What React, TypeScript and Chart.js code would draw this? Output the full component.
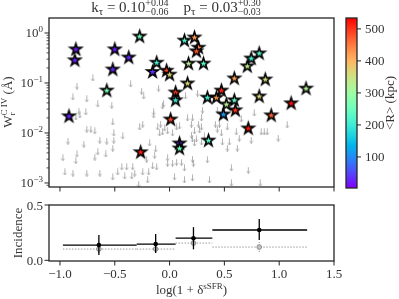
import React, { useEffect, useRef } from 'react';
import { Chart, registerables } from 'chart.js';
Chart.register(...registerables);

const W = 399;
const H = 299;
const FONT = '"Liberation Serif", "DejaVu Serif", serif';
const TEXT = '#333333';
const AXIS = '#262626';

// ---------- top panel: detections (stars) ----------
const starX = [-0.855, -0.864, -0.5, -0.373, -0.518, -0.273, -0.118, -0.155, -0.027, 0.0, 0.136, 0.227, 0.264, 0.245, 0.173, 0.309, 0.164, -0.573, 0.055, 0.055, 0.345, 0.427, 0.473, 0.518, 0.591, 0.491, 0.6, 0.591, 0.745, 0.818, 0.709, 0.873, 0.818, 1.245, 1.109, 0.927, 0.718, 0.355, 0.091, 0.091, -0.918, 0.009, -0.264];
const starW = [0.48, 0.29, 0.48, 0.33, 0.19, 0.87, 0.26, 0.17, 0.18, 0.15, 0.72, 0.83, 0.52, 0.44, 0.25, 0.25, 0.1, 0.072, 0.066, 0.046, 0.052, 0.052, 0.072, 0.038, 0.046, 0.024, 0.029, 0.126, 0.316, 0.4, 0.22, 0.12, 0.055, 0.079, 0.04, 0.023, 0.0126, 0.0072, 0.0063, 0.005, 0.022, 0.019, 0.0042];
const starR = [20, 25, 22, 30, 28, 255, 205, 35, 490, 370, 215, 425, 440, 480, 330, 225, 365, 260, 495, 200, 205, 425, 510, 330, 240, 110, 500, 420, 210, 225, 335, 360, 365, 320, 525, 470, 520, 220, 30, 255, 25, 490, 515];

// ---------- top panel: upper limits (arrows) ----------
const limX = [-0.7, -0.845, -0.882, -0.755, -0.655, -0.527, -0.355, -0.255, -0.236, -0.1, 0.145, 0.255, -0.055, -0.827, -0.818, -0.855, -0.764, -0.755, -0.718, -0.682, -0.518, -0.509, -0.427, -0.273, -0.245, -0.927, -0.782, -0.636, -0.573, -0.509, -0.518, -0.655, -0.682, -0.582, -0.845, -0.855, -0.973, -0.955, -0.882, -0.755, -0.636, -0.518, -0.473, -0.436, -0.391, -0.336, -0.409, -0.345, -0.318, -0.282, -0.245, -0.191, -0.209, -0.064, -0.145, -0.145, -0.082, -0.109, -0.045, -0.064, -0.091, -0.018, 0.064, 0.091, 0.027, 0.164, 0.209, 0.291, 0.264, 0.291, 0.273, 0.2, 0.227, 0.2, 0.209, 0.245, 0.227, 0.291, 0.318, 0.418, 0.455, 0.436, 0.527, 0.473, 0.545, 0.527, 0.609, 0.482, -0.182, -0.127, -0.136, -0.018, 0.027, -0.018, 0.064, 0.109, 0.218, 0.209, 0.136, 0.345, 0.364, 0.564, -0.118, -0.2, 0.045, 0.136, 0.209, 0.564, 0.3, 0.436, 0.773, 0.655, 0.636, 0.618, 0.745, 0.836, 0.864, 0.891, 1.073, 0.991, 0.718, 0.827, -0.155];
const limW = [0.126, 0.087, 0.0525, 0.048, 0.038, 0.036, 0.0955, 0.069, 0.055, 0.079, 0.055, 0.063, 0.038, 0.0275, 0.0229, 0.0209, 0.0263, 0.012, 0.012, 0.011, 0.0166, 0.01, 0.0087, 0.0132, 0.0151, 0.0069, 0.006, 0.0072, 0.0069, 0.0072, 0.005, 0.0042, 0.0033, 0.0038, 0.0038, 0.0028, 0.0032, 0.00166, 0.00158, 0.00158, 0.00158, 0.00132, 0.00166, 0.0021, 0.0021, 0.0021, 0.00138, 0.00138, 0.00158, 0.00095, 0.00166, 0.00166, 0.003, 0.0347, 0.0263, 0.0229, 0.0151, 0.0132, 0.0126, 0.0105, 0.01, 0.011, 0.0132, 0.0138, 0.01, 0.02, 0.02, 0.02, 0.0151, 0.0132, 0.0115, 0.0151, 0.011, 0.0091, 0.0076, 0.0076, 0.0063, 0.0066, 0.0087, 0.0151, 0.0151, 0.012, 0.0132, 0.01, 0.0066, 0.005, 0.0105, 0.0066, 0.0063, 0.0048, 0.0036, 0.0032, 0.0025, 0.0025, 0.0026, 0.0026, 0.0025, 0.003, 0.002, 0.0029, 0.00115, 0.002, 0.0021, 0.00115, 0.00132, 0.00115, 0.00126, 0.001, 0.0288, 0.0288, 0.0251, 0.0191, 0.0079, 0.005, 0.0072, 0.0105, 0.0105, 0.0105, 0.0145, 0.0079, 0.0018, 0.001, 0.0022];

// ---------- axes ----------
const xMin = -1.1;
const xMax = 1.5;
const xTicks = [-1.0, -0.5, 0.0, 0.5, 1.0, 1.5];
const xTickLabels = ['\u22121.0', '\u22120.5', '0.0', '0.5', '1.0', '1.5'];
const yMin = 0.00083;
const yMax = 1.995;
const yDecades = [0.0001, 0.001, 0.01, 0.1, 1];
const yMajor = [0.001, 0.01, 0.1, 1];
const yMajorExp = ['\u22123', '\u22122', '\u22121', '0'];

// ---------- colorbar ----------
const cbMin = 3;
const cbMax = 534;
const cbTicks = [100, 200, 300, 400, 500];
const cbTickLabels = ['100', '200', '300', '400', '500'];

// ---------- bottom panel: incidence ----------
const binEdges = [-0.973, -0.3, 0.055, 0.39, 1.255];
const binCenters = [-0.645, -0.127, 0.218, 0.818];
const incidence = [0.138, 0.147, 0.2, 0.274];
const incidenceLo = [0.048, 0.066, 0.1, 0.183];
const incidenceHi = [0.229, 0.238, 0.3, 0.373];
const baseIncidence = [0.102, 0.102, 0.156, 0.12];
const baseLo = [0.066, 0.066, 0.1, 0.075];
const baseHi = [0.138, 0.138, 0.19, 0.165];
const botYMin = -0.006;
const botYMax = 0.5;
const botYTicks = [0.0, 0.5];
const botYTickLabels = ['0.0', '0.5'];

// ---------- text ----------
const kTau = '0.10';
const kTauUp = '+0.04';
const kTauDn = '\u22120.06';
const pTau = '0.03';
const pTauUp = '+0.30';
const pTauDn = '\u22120.03';

function clamp(v: number) { return Math.max(0, Math.min(1, v)); }
function rainbow(t: number) {
  const r = clamp(Math.abs(2 * t - 0.5));
  const g = clamp(Math.sin(Math.PI * t));
  const b = clamp(Math.cos((Math.PI * t) / 2));
  return `rgb(${Math.round(r * 255)},${Math.round(g * 255)},${Math.round(b * 255)})`;
}
function cmap(v: number) { return rainbow(clamp((v - cbMin) / (cbMax - cbMin))); }

function starImage(color: string) {
  const c = document.createElement('canvas');
  const s = 17;
  c.width = s; c.height = s;
  const g = c.getContext('2d')!;
  const cx = s / 2, cy = s / 2 + 0.5;
  const R = 6.0, r = R * 0.382;
  g.beginPath();
  for (let i = 0; i < 10; i++) {
    const a = -Math.PI / 2 + (i * Math.PI) / 5;
    const rad = i % 2 === 0 ? R : r;
    g.lineTo(cx + rad * Math.cos(a), cy + rad * Math.sin(a));
  }
  g.closePath();
  g.fillStyle = color;
  g.fill();
  g.lineWidth = 1.6;
  g.lineJoin = 'miter';
  g.strokeStyle = '#000';
  g.stroke();
  return c;
}

function arrowImage() {
  const c = document.createElement('canvas');
  c.width = 5; c.height = 7;
  const g = c.getContext('2d')!;
  g.strokeStyle = '#a8a8a8';
  g.lineWidth = 0.9;
  g.beginPath(); g.moveTo(2.5, 0.3); g.lineTo(2.5, 6.6); g.stroke();
  g.beginPath(); g.moveTo(0.9, 4.4); g.lineTo(2.5, 6.6); g.lineTo(4.1, 4.4); g.stroke();
  return c;
}

type Piece = { t?: string; sup?: string; sub?: string; size: number; dy?: number; supDy?: number; subDy?: number };

function pieceWidth(ctx: CanvasRenderingContext2D, p: Piece) {
  ctx.font = `${p.size}px ${FONT}`;
  if (p.sup !== undefined || p.sub !== undefined) {
    return Math.max(ctx.measureText(p.sup || '').width, ctx.measureText(p.sub || '').width);
  }
  return ctx.measureText(p.t || '').width;
}

function drawRich(ctx: CanvasRenderingContext2D, pieces: Piece[], x: number, y: number, align: string) {
  const widths = pieces.map((p) => pieceWidth(ctx, p));
  const total = widths.reduce((a, b) => a + b, 0);
  let cx = align === 'left' ? x : align === 'center' ? x - total / 2 : x - total;
  ctx.textAlign = 'left';
  ctx.textBaseline = 'alphabetic';
  pieces.forEach((p, i) => {
    ctx.font = `${p.size}px ${FONT}`;
    if (p.sup !== undefined || p.sub !== undefined) {
      if (p.sup) ctx.fillText(p.sup, cx, y + (p.supDy ?? -5));
      if (p.sub) ctx.fillText(p.sub, cx, y + (p.subDy ?? 3));
    } else {
      ctx.fillText(p.t || '', cx, y + (p.dy || 0));
    }
    cx += widths[i];
  });
}

function line(ctx: CanvasRenderingContext2D, x1: number, y1: number, x2: number, y2: number) {
  ctx.beginPath(); ctx.moveTo(x1, y1); ctx.lineTo(x2, y2); ctx.stroke();
}

const topPlugin = {
  id: 'topDeco',
  afterDraw(chart: any) {
    const ctx = chart.ctx as CanvasRenderingContext2D;
    const { left, right, top, bottom } = chart.chartArea;
    const xs = chart.scales.x, ys = chart.scales.y;
    ctx.save();
    ctx.strokeStyle = AXIS;
    ctx.lineWidth = 1;
    xs.ticks.forEach((t: any) => {
      const px = xs.getPixelForValue(t.value);
      line(ctx, px, bottom, px, bottom + 4.5);
    });
    ys.ticks.forEach((t: any) => {
      const py = ys.getPixelForValue(t.value);
      if (py < top - 0.5 || py > bottom + 0.5) return;
      const major = yMajor.includes(t.value);
      ctx.lineWidth = major ? 1 : 0.8;
      line(ctx, left - (major ? 4.5 : 2.5), py, left, py);
    });
    ctx.lineWidth = 1.3;
    ctx.strokeRect(left, top, right - left, bottom - top);
    ctx.fillStyle = TEXT;
    yMajor.forEach((v, i) => {
      const py = ys.getPixelForValue(v);
      drawRich(ctx, [{ t: '10', size: 13 }, { t: yMajorExp[i], size: 9, dy: -5 }], 43, py + 4.5, 'right');
    });
    // y title
    ctx.save();
    ctx.translate(12, 102);
    ctx.rotate(-Math.PI / 2);
    drawRich(ctx, [
      { t: 'W', size: 13 },
      { sup: 'C IV', sub: 'r', size: 9, supDy: -5.5, subDy: 3 },
      { t: ' (\u00C5)', size: 13 },
    ], 0, 0, 'center');
    ctx.restore();
    // title
    drawRich(ctx, [
      { t: 'k', size: 15 },
      { t: '\u03C4', size: 11, dy: 2.5 },
      { t: ' = ', size: 15 },
      { t: kTau, size: 15 },
      { sup: kTauUp, sub: kTauDn, size: 10, supDy: -6, subDy: 2.5 },
      { t: '    ', size: 15 },
      { t: 'p', size: 15 },
      { t: '\u03C4', size: 11, dy: 2.5 },
      { t: ' = ', size: 15 },
      { t: pTau, size: 15 },
      { sup: pTauUp, sub: pTauDn, size: 10, supDy: -6, subDy: 2.5 },
    ], 176, 12, 'center');
    ctx.restore();
  },
};

const botPlugin = {
  id: 'botDeco',
  afterDraw(chart: any) {
    const ctx = chart.ctx as CanvasRenderingContext2D;
    const { left, right, top, bottom } = chart.chartArea;
    const xs = chart.scales.x, ys = chart.scales.y;
    ctx.save();
    ctx.strokeStyle = AXIS;
    ctx.lineWidth = 1;
    ctx.fillStyle = TEXT;
    xs.ticks.forEach((t: any, i: number) => {
      const px = xs.getPixelForValue(t.value);
      line(ctx, px, bottom, px, bottom + 4.5);
      ctx.font = `13px ${FONT}`;
      ctx.textAlign = 'center';
      ctx.textBaseline = 'alphabetic';
      ctx.fillText(xTickLabels[i], px, 278);
    });
    ys.ticks.forEach((t: any, i: number) => {
      const py = ys.getPixelForValue(t.value);
      line(ctx, left - 4.5, py, left, py);
      ctx.font = `13px ${FONT}`;
      ctx.textAlign = 'right';
      ctx.textBaseline = 'alphabetic';
      ctx.fillText(botYTickLabels[i], 43, py + 4.5);
    });
    ctx.lineWidth = 1.3;
    ctx.strokeRect(left, top, right - left, bottom - top);
    drawRich(ctx, [
      { t: 'log(1 + \u03B4', size: 13 },
      { t: 'sSFR', size: 9, dy: -5.5 },
      { t: ')', size: 13 },
    ], (left + right) / 2, 294, 'center');
    ctx.save();
    ctx.translate(21.5, (top + bottom) / 2);
    ctx.rotate(-Math.PI / 2);
    drawRich(ctx, [{ t: 'Incidence', size: 13 }], 0, 0, 'center');
    ctx.restore();
    ctx.restore();
  },
};

const cbPlugin = {
  id: 'cbDeco',
  afterDraw(chart: any) {
    const ctx = chart.ctx as CanvasRenderingContext2D;
    const { left, right, top, bottom } = chart.chartArea;
    const ys = chart.scales.y;
    ctx.save();
    const y0 = ys.getPixelForValue(cbMin), y1 = ys.getPixelForValue(cbMax);
    const grad = ctx.createLinearGradient(0, y0, 0, y1);
    for (let i = 0; i <= 40; i++) grad.addColorStop(i / 40, rainbow(i / 40));
    ctx.fillStyle = grad;
    ctx.fillRect(left, top, right - left, bottom - top);
    ctx.strokeStyle = AXIS;
    ctx.lineWidth = 1.3;
    ctx.strokeRect(left, top, right - left, bottom - top);
    ctx.lineWidth = 1;
    ctx.fillStyle = TEXT;
    cbTicks.forEach((v, i) => {
      const py = ys.getPixelForValue(v);
      line(ctx, right, py, right + 4, py);
      ctx.font = `13px ${FONT}`;
      ctx.textAlign = 'left';
      ctx.textBaseline = 'alphabetic';
      ctx.fillText(cbTickLabels[i], 365, py + 4.5);
    });
    ctx.save();
    ctx.translate(394, (top + bottom) / 2);
    ctx.rotate(-Math.PI / 2);
    drawRich(ctx, [{ t: '<R> (kpc)', size: 13 }], 0, 0, 'center');
    ctx.restore();
    ctx.restore();
  },
};

const hiddenGrid = { display: false };

function topConfig(): any {
  const stars = starX.map((x, i) => ({ x, y: starW[i] }));
  const starImgs = starR.map((r) => starImage(cmap(r)));
  const arrows = limX.map((x, i) => ({ x, y: limW[i] }));
  const arrow = arrowImage();
  const logTicks: number[] = [];
  yDecades.forEach((d) => { for (let k = 1; k <= 9; k++) logTicks.push(k * d); });
  return {
    type: 'scatter',
    data: {
      datasets: [
        { data: stars, pointStyle: starImgs, pointRadius: 6, order: 0 },
        { data: arrows, pointStyle: arrow, pointRadius: 4, order: 1 },
      ],
    },
    options: {
      responsive: false,
      animation: false,
      devicePixelRatio: 1,
      events: [],
      layout: { padding: { left: 0, top: 18, right: W - 334, bottom: 0 } },
      plugins: { legend: { display: false }, tooltip: { enabled: false } },
      scales: {
        x: {
          type: 'linear', min: xMin, max: xMax,
          afterBuildTicks: (s: any) => { s.ticks = xTicks.map((v) => ({ value: v })); },
          afterFit: (s: any) => { s.height = H - 187; },
          ticks: { display: false }, grid: hiddenGrid, border: { display: false },
        },
        y: {
          type: 'logarithmic', min: yMin, max: yMax,
          afterBuildTicks: (s: any) => { s.ticks = logTicks.filter((v) => v >= yMin && v <= yMax).map((v) => ({ value: v })); },
          afterFit: (s: any) => { s.width = 49; },
          ticks: { display: false }, grid: hiddenGrid, border: { display: false },
        },
      },
    },
    plugins: [topPlugin],
  };
}

function botConfig(): any {
  const datasets: any[] = [];
  binCenters.forEach((c, i) => {
    datasets.push({
      data: [{ x: binEdges[i], y: incidence[i] }, { x: binEdges[i + 1], y: incidence[i] }],
      showLine: true, borderColor: '#000', borderWidth: 1.3, pointRadius: 0, order: 0,
    });
    datasets.push({
      data: [{ x: c, y: incidenceLo[i] }, { x: c, y: incidenceHi[i] }],
      showLine: true, borderColor: '#000', borderWidth: 1.3, pointRadius: 0, order: 0,
    });
    datasets.push({
      data: [{ x: binEdges[i], y: baseIncidence[i] }, { x: binEdges[i + 1], y: baseIncidence[i] }],
      showLine: true, borderColor: '#9a9a9a', borderWidth: 1, borderDash: [1.5, 1.5], pointRadius: 0, order: 3,
    });
    datasets.push({
      data: [{ x: c, y: baseLo[i] }, { x: c, y: baseHi[i] }],
      showLine: true, borderColor: '#9a9a9a', borderWidth: 1, borderDash: [1.5, 1.5], pointRadius: 0, order: 3,
    });
  });
  datasets.push({
    data: binCenters.map((c, i) => ({ x: c, y: baseIncidence[i] })),
    pointRadius: 2.3, backgroundColor: '#c4c4c4', borderColor: '#8a8a8a', borderWidth: 1, order: 2,
  });
  datasets.push({
    data: binCenters.map((c, i) => ({ x: c, y: incidence[i] })),
    pointRadius: 2.3, backgroundColor: '#000', borderColor: '#000', borderWidth: 0, order: -1,
  });
  return {
    type: 'scatter',
    data: { datasets },
    options: {
      responsive: false,
      animation: false,
      devicePixelRatio: 1,
      events: [],
      layout: { padding: { left: 0, top: 205, right: W - 334, bottom: 0 } },
      plugins: { legend: { display: false }, tooltip: { enabled: false } },
      scales: {
        x: {
          type: 'linear', min: xMin, max: xMax,
          afterBuildTicks: (s: any) => { s.ticks = xTicks.map((v) => ({ value: v })); },
          afterFit: (s: any) => { s.height = H - 261; },
          ticks: { display: false }, grid: hiddenGrid, border: { display: false },
        },
        y: {
          type: 'linear', min: botYMin, max: botYMax,
          afterBuildTicks: (s: any) => { s.ticks = botYTicks.map((v) => ({ value: v })); },
          afterFit: (s: any) => { s.width = 49; },
          ticks: { display: false }, grid: hiddenGrid, border: { display: false },
        },
      },
    },
    plugins: [botPlugin],
  };
}

function cbConfig(): any {
  return {
    type: 'scatter',
    data: { datasets: [{ data: [] }] },
    options: {
      responsive: false,
      animation: false,
      devicePixelRatio: 1,
      events: [],
      layout: { padding: { left: 346, top: 18, right: 0, bottom: H - 188 } },
      plugins: { legend: { display: false }, tooltip: { enabled: false } },
      scales: {
        x: { type: 'linear', min: 0, max: 1, display: false },
        y: {
          type: 'linear', position: 'right', min: cbMin, max: cbMax,
          afterBuildTicks: (s: any) => { s.ticks = cbTicks.map((v) => ({ value: v })); },
          afterFit: (s: any) => { s.width = W - 357; },
          ticks: { display: false }, grid: hiddenGrid, border: { display: false },
        },
      },
    },
    plugins: [cbPlugin],
  };
}

export default function App() {
  const topRef = useRef<HTMLCanvasElement>(null);
  const botRef = useRef<HTMLCanvasElement>(null);
  const cbRef = useRef<HTMLCanvasElement>(null);
  useEffect(() => {
    const charts = [
      new Chart(topRef.current!, topConfig()),
      new Chart(botRef.current!, botConfig()),
      new Chart(cbRef.current!, cbConfig()),
    ];
    return () => charts.forEach((c) => c.destroy());
  }, []);
  const st: React.CSSProperties = { position: 'absolute', left: 0, top: 0, width: W, height: H };
  return (
    <div style={{ position: 'fixed', left: 0, top: 0, width: W, height: H, background: '#fff' }}>
      <canvas ref={topRef} width={W} height={H} style={st} />
      <canvas ref={botRef} width={W} height={H} style={st} />
      <canvas ref={cbRef} width={W} height={H} style={st} />
    </div>
  );
}
